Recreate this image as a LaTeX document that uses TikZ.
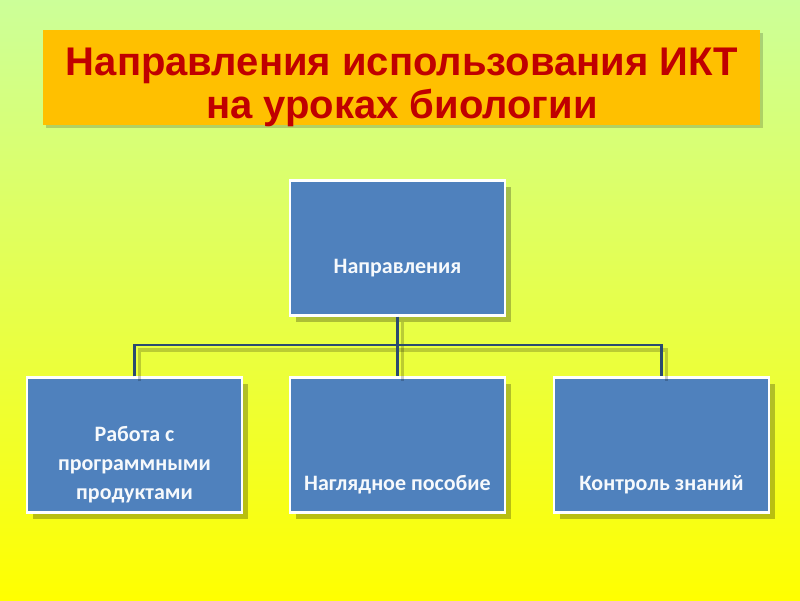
\documentclass[tikz,border=0pt]{standalone}
\usepackage{fontspec}
\setmainfont{Liberation Sans}
\newfontfamily\boxfont{Carlito}
\usetikzlibrary{shadows}
\definecolor{bgtop}{HTML}{CCFF99}
\definecolor{bgbot}{HTML}{FFFF00}
\definecolor{titleorange}{HTML}{FFC000}
\definecolor{titlered}{HTML}{C00000}
\definecolor{boxblue}{HTML}{4F81BD}
\definecolor{connblue}{HTML}{2A4A70}
\tikzset{
  dbox/.style={rectangle, fill=boxblue, draw=white, line width=2.2pt,
    minimum width=215pt, minimum height=135pt, inner sep=0pt,
    drop shadow={shadow xshift=6pt, shadow yshift=-6pt, fill=black, opacity=0.25}},
  dtext/.style={text=white!95!boxblue, font=\boxfont\bfseries\fontsize{22}{29}\selectfont, align=center, inner sep=0pt},
  conn/.style={draw=connblue, line width=2.6pt},
  connshadow/.style={draw=black, opacity=0.2, line width=3.5pt,
    transform canvas={shift={(5pt,-5pt)}}}
}
\begin{document}
\begin{tikzpicture}[x=1pt,y=-1pt]
\shade[top color=bgtop, bottom color=bgbot] (0,0) rectangle (800,600);
\useasboundingbox (0,0) rectangle (800,600);
% title
\fill[black, opacity=0.18] (46,33) rectangle (763,128);
\fill[titleorange] (43,30) rectangle (760,125);
\node[text=titlered, font=\bfseries\fontsize{40}{43}\selectfont, align=center, inner sep=0pt] (title) at (402,87)
  {Направления использования ИКТ\\на уроках биологии};
% boxes
\node[dbox] (top) at (397.5,248) {};
\node[dbox] (left) at (134.5,445) {};
\node[dbox] (mid) at (397.5,445) {};
\node[dbox] (right) at (661.5,445) {};
% connectors
\coordinate (j) at (397.5,345);
\draw[connshadow] (top.south) -- (j);
\draw[connshadow] (left.north) |- (j) -| (right.north);
\draw[connshadow] (j) -- (mid.north);
\draw[conn] (top.south) -- (j);
\draw[conn] (left.north) |- (j) -| (right.north);
\draw[conn] (j) -- (mid.north);
% texts
\node[dtext] (ttop) at (397.5,268) {Направления};
\node[dtext] (tleft) at (134.5,465) {Работа с\\программными\\продуктами};
\node[dtext] (tmid) at (397.5,485) {Наглядное пособие};
\node[dtext] (tright) at (661.5,485) {Контроль знаний};
\end{tikzpicture}
\end{document}
